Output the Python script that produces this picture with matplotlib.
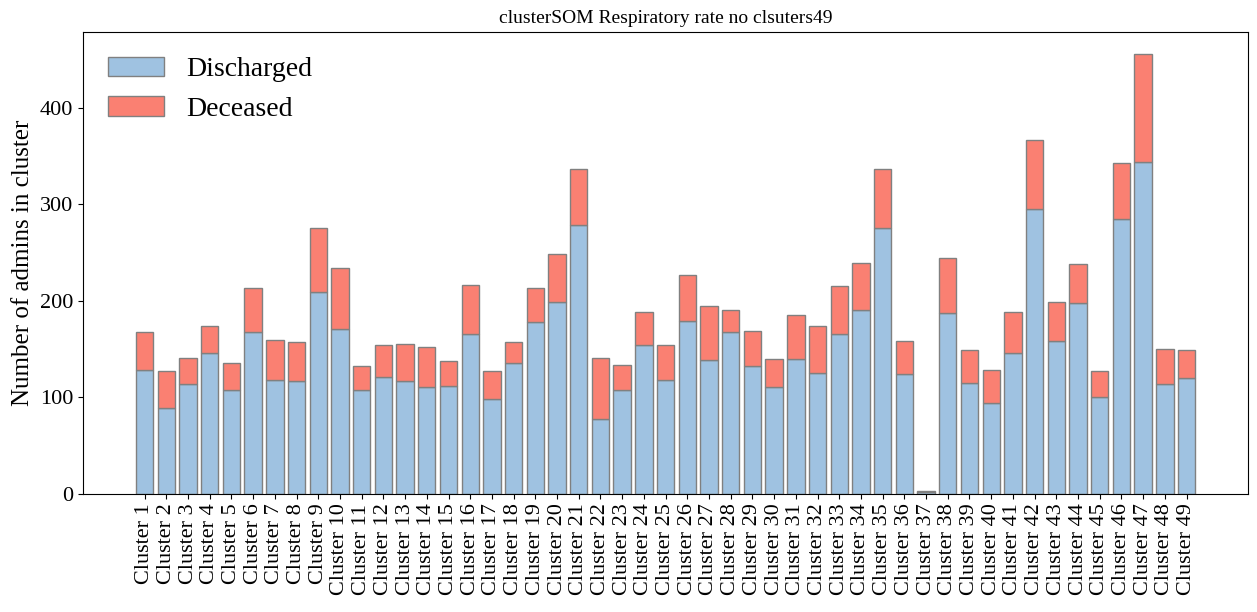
import numpy as np
import matplotlib.pyplot as plt

plt.rcParams['font.family'] = ['Liberation Serif', 'DejaVu Serif']

clusters = ["Cluster %d" % i for i in range(1, 50)]
discharged = [128, 89, 114, 146, 108, 168, 118, 117, 209, 171,
              108, 121, 117, 111, 112, 166, 98, 136, 178, 199,
              279, 78, 108, 154, 118, 179, 139, 168, 133, 111,
              140, 125, 166, 191, 276, 124, 2, 187, 115, 94,
              146, 295, 158, 198, 100, 285, 344, 114, 120]
total = [168, 127, 141, 174, 136, 213, 159, 157, 276, 234,
         133, 154, 155, 152, 138, 216, 127, 157, 213, 249,
         337, 141, 134, 188, 154, 227, 195, 191, 169, 140,
         185, 174, 215, 239, 337, 158, 3, 244, 149, 128,
         188, 367, 199, 238, 127, 343, 456, 150, 149]
deceased = [t - d for t, d in zip(total, discharged)]

fig, ax = plt.subplots(figsize=(12.57, 6.12), dpi=100)
x = np.arange(len(clusters))
ax.bar(x, discharged, color="#9fc2e1", edgecolor="grey", label="Discharged")
ax.bar(x, deceased, bottom=discharged, color="#fa8072", edgecolor="grey", label="Deceased")
ax.set_xticks(x)
ax.set_xticklabels(clusters, rotation=90, fontsize=16)
ax.tick_params(axis="y", labelsize=16)
ax.set_yticks([0, 100, 200, 300, 400])
ax.set_ylabel("Number of admins in cluster", fontsize=18)
ax.set_title("clusterSOM Respiratory rate no clsuters49", fontsize=14)
ax.legend(fontsize=20, frameon=False, loc="upper left")
fig.subplots_adjust(left=0.066, right=0.993, top=0.948, bottom=0.193)
plt.savefig("out.png")
